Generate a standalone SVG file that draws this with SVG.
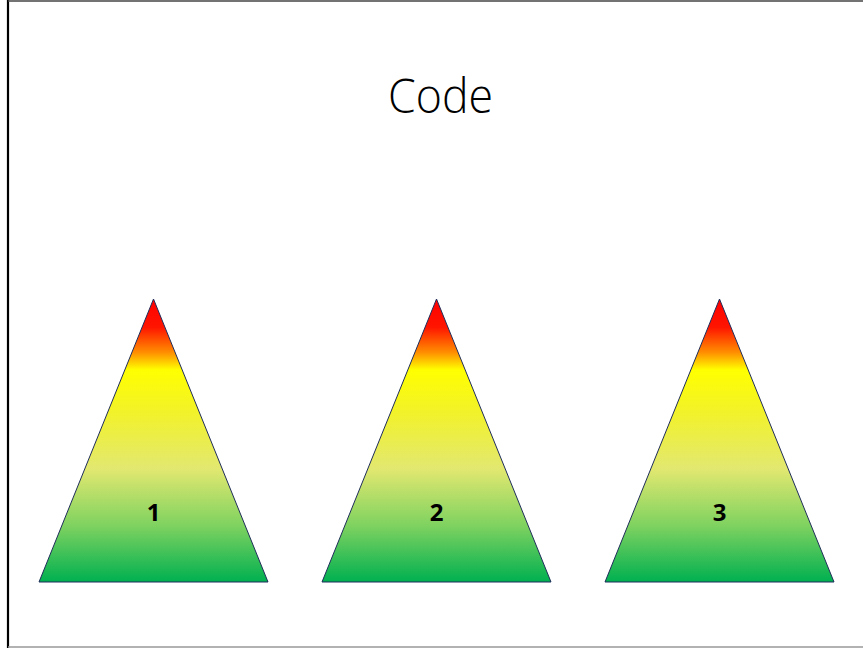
<svg xmlns="http://www.w3.org/2000/svg" width="863" height="648" viewBox="0 0 863 648">
  <style>
    .tri { stroke: #1f2d5a; stroke-width: 1; fill: url(#heat); }
    .num { font-family: "Open Sans", "Liberation Sans", Arial, sans-serif; font-weight: bold; font-size: 24px; fill: #000; text-anchor: middle; }
    .title { font-family: "Open Sans", "Liberation Sans", sans-serif; font-weight: 300; font-size: 47px; fill: #000; text-anchor: middle; }
  </style>
  <defs>
    <linearGradient id="heat" x1="0" y1="0" x2="0" y2="1">
      <stop offset="0" stop-color="#ff0000"/>
      <stop offset="0.1" stop-color="#ff1500"/>
      <stop offset="0.19" stop-color="#ff9000"/>
      <stop offset="0.25" stop-color="#ffff00"/>
      <stop offset="0.4" stop-color="#f2f22a"/>
      <stop offset="0.6" stop-color="#e2e870"/>
      <stop offset="0.8" stop-color="#7fd260"/>
      <stop offset="1" stop-color="#00b050"/>
    </linearGradient>
  </defs>
  <rect width="863" height="648" fill="#fff"/>
  <!-- frame -->
  <line x1="8" y1="0" x2="8" y2="648" stroke="#000" stroke-width="2.2"/>
  <line x1="8" y1="1" x2="863" y2="1" stroke="#444" stroke-width="1.6"/>
  <line x1="8" y1="647" x2="863" y2="647" stroke="#999" stroke-width="1.4"/>

  <text class="title" x="440.5" y="113" textLength="105" lengthAdjust="spacingAndGlyphs">Code</text>

  <g id="level-1">
    <polygon class="tri" points="153.5,299 268,582 39,582"/>
    <text class="num" x="153.5" y="521">1</text>
  </g>
  <g id="level-2">
    <polygon class="tri" points="436.5,299 551,582 322,582"/>
    <text class="num" x="436.5" y="521">2</text>
  </g>
  <g id="level-3">
    <polygon class="tri" points="719.5,299 834,582 605,582"/>
    <text class="num" x="719.5" y="521">3</text>
  </g>
</svg>
